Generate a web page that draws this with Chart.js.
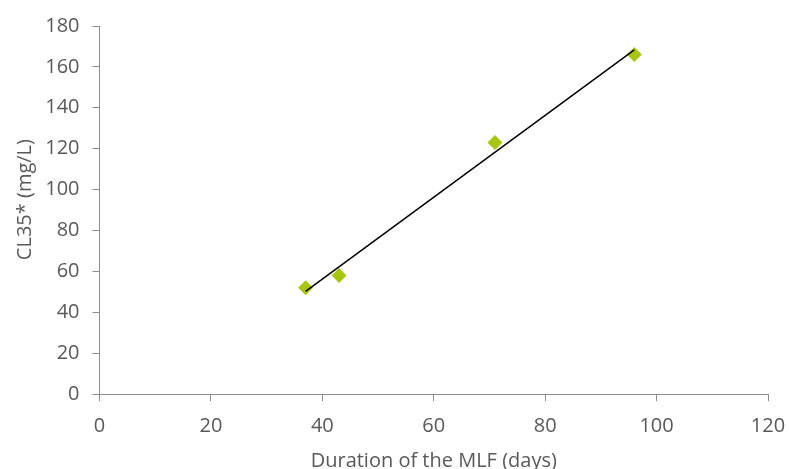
<!DOCTYPE html>
<html>
<head>
<meta charset="utf-8">
<script src="https://cdn.jsdelivr.net/npm/chart.js@4"></script>
<style>
  html, body { margin: 0; padding: 0; background: #fff; }
  #chart { display: block; }
</style>
</head>
<body>
<canvas id="chart" width="789" height="469"></canvas>
<script>
// values
const mlfDays = [37, 43, 71, 96];
const cl35 = [52, 58, 123, 166];

// trend line ends
const trendDays = [37, 96];
const trendCl35 = [50.2, 168.3];

const xTitle = 'Duration of the MLF (days)';
// leading spaces nudge the rotated title up a little, like the original
const yTitle = '    CL35* (mg/L)';

const axisGray = '#8c8c8c';
const textGray = '#595959';
const fontFamily = '"Open Sans", "DejaVu Sans", sans-serif';

const points = mlfDays.map((d, i) => ({ x: d, y: cl35[i] }));
const trend = trendDays.map((d, i) => ({ x: d, y: trendCl35[i] }));

const ctx = document.getElementById('chart').getContext('2d');

new Chart(ctx, {
    type: 'scatter',
    data: {
        datasets: [
            {
                label: 'Trend',
                data: trend,
                showLine: true,
                borderColor: '#000',
                borderWidth: 1.5,
                pointRadius: 0,
                order: 0
            },
            {
                label: 'CL35*',
                data: points,
                pointStyle: 'rectRot',
                pointRadius: 7.5,
                backgroundColor: '#a6c60f',
                borderColor: '#a6c60f',
                borderWidth: 0,
                order: 1
            }
        ]
    },
    options: {
        responsive: false,
        animation: false,
        layout: { padding: { top: 26, right: 21, left: 0, bottom: 0 } },
        plugins: {
            legend: { display: false },
            tooltip: { enabled: false }
        },
        scales: {
            x: {
                type: 'linear',
                min: 0,
                max: 120,
                ticks: {
                    stepSize: 20,
                    color: textGray,
                    font: { family: fontFamily, size: 20 },
                    padding: 13,
                    maxRotation: 0
                },
                grid: { drawOnChartArea: false, drawTicks: true, tickLength: 7, color: axisGray },
                border: { color: axisGray, width: 1 },
                title: {
                    display: true,
                    text: xTitle,
                    color: textGray,
                    font: { family: fontFamily, size: 20, lineHeight: 0.8 },
                    padding: { top: 0, bottom: 0 }
                },
                afterFit: (scale) => {
                    scale.height = 75;
                    scale.paddingLeft = 0;
                    scale.paddingRight = 0;
                }
            },
            y: {
                type: 'linear',
                min: 0,
                max: 180,
                ticks: {
                    stepSize: 20,
                    color: textGray,
                    font: { family: fontFamily, size: 20 },
                    padding: 13
                },
                grid: { drawOnChartArea: false, drawTicks: true, tickLength: 7, color: axisGray },
                border: { color: axisGray, width: 1 },
                title: {
                    display: true,
                    text: yTitle,
                    color: textGray,
                    font: { family: fontFamily, size: 20 },
                    padding: { top: 13, bottom: 0 }
                },
                afterFit: (scale) => {
                    scale.width = 99.5;
                    scale.paddingTop = 0;
                    scale.paddingBottom = 0;
                }
            }
        }
    }
});
</script>
</body>
</html>
